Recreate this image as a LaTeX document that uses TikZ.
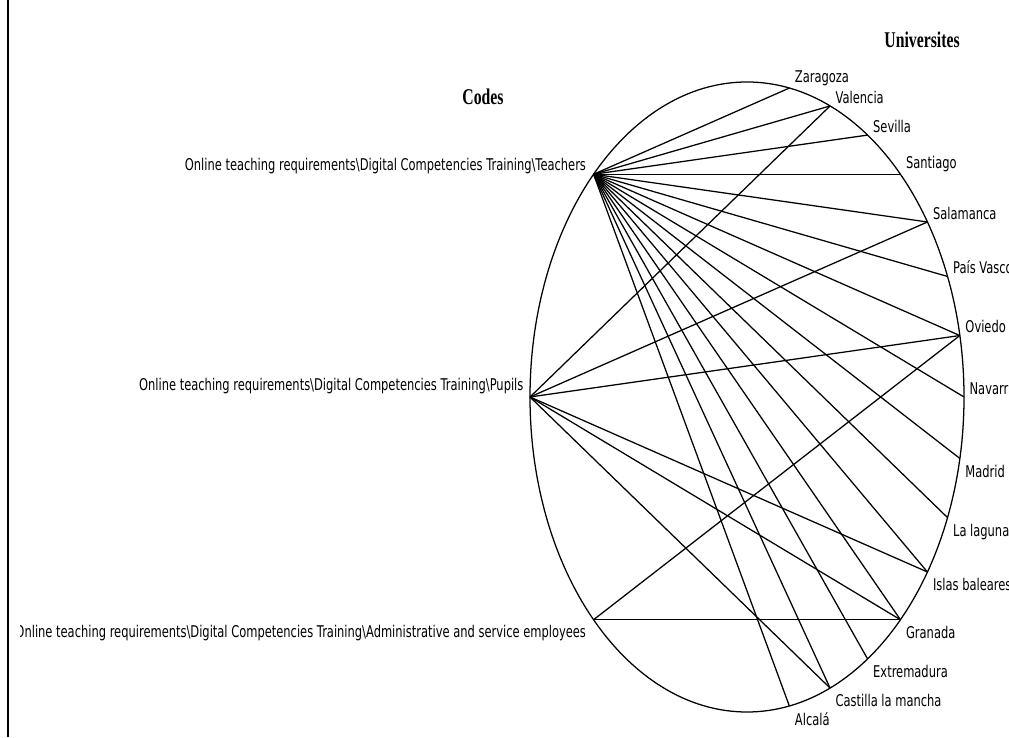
\documentclass[tikz,border=0pt]{standalone}
\usepackage{fontspec}
\newfontfamily\labfont{DejaVu Sans}[FakeStretch=0.71]
\newfontfamily\headfont{Liberation Serif}[FakeStretch=0.7]
\usetikzlibrary{calc}

\begin{document}
\begin{tikzpicture}[x=0.25mm,y=0.25mm,line width=0.9pt,
	lab/.style={font=\labfont\fontsize{11.5}{13}\selectfont,inner sep=0pt},
	head/.style={font=\headfont\fontsize{16}{18}\selectfont\bfseries,inner sep=0pt},
	up/.style={lab,anchor=south west,shift={(5,2)}},
	dn/.style={lab,anchor=north west,shift={(5,-6)}}]
	\useasboundingbox (0,0) rectangle (1009,737);
	\draw[line width=0.8pt] (8,0)--(8,737); %左の線
	\draw (747,340) ellipse [x radius=217, y radius=315]; %円
	\node[head] (codes) at (483,640) {Codes};
	\node[head] (unis) at (922,697) {Universites};
	% codes
	\coordinate (teach) at ({747+217*cos(135)},{340+315*sin(135)});
	\coordinate (pup) at (530,340);
	\coordinate (adm) at ({747+217*cos(225)},{340+315*sin(225)});
	\node[lab,anchor=south east] (teachlab) at ($(teach)+(-7,0)$) {Online teaching requirements\textbackslash Digital Competencies Training\textbackslash Teachers};
	\node[lab,anchor=south east] (puplab) at ($(pup)+(-6,2)$) {Online teaching requirements\textbackslash Digital Competencies Training\textbackslash Pupils};
	\begin{scope}
		\clip (20,0) rectangle (1009,737);
		\node[lab,anchor=north east] (admlab) at ($(adm)+(-7,-5)$) {Online teaching requirements\textbackslash Digital Competencies Training\textbackslash Administrative and service employees};
	\end{scope}
	% universities
	\foreach \a/\n/\t/\s in {78.75/zar/Zaragoza/up,67.5/val/Valencia/up,56.25/sev/Sevilla/up,45/sant/Santiago/up,
		33.75/sal/Salamanca/up,22.5/pv/País Vasco/up,11.25/ovi/Oviedo/up,0/nav/Navarra/up,-11.25/mad/Madrid/dn,
		-22.5/lag/La laguna/dn,-33.75/isl/Islas baleares/dn,-45/gra/Granada/dn,-56.25/ext/Extremadura/dn,
		-67.5/cas/Castilla la mancha/dn,-78.75/alc/Alcalá/dn}{
		\coordinate (\n) at ({747+217*cos(\a)},{340+315*sin(\a)});
		\node[\s] (\n lab) at (\n) {\t};
	}
	% links
	\foreach \u in {zar,val,sev,sant,sal,pv,ovi,nav,mad,lag,isl,gra,ext,cas,alc} \draw (teach)--(\u);
	\foreach \u in {val,sal,ovi,isl,gra,cas} \draw (pup)--(\u);
	\foreach \u in {ovi,gra} \draw (adm)--(\u);
\end{tikzpicture}
\end{document}
